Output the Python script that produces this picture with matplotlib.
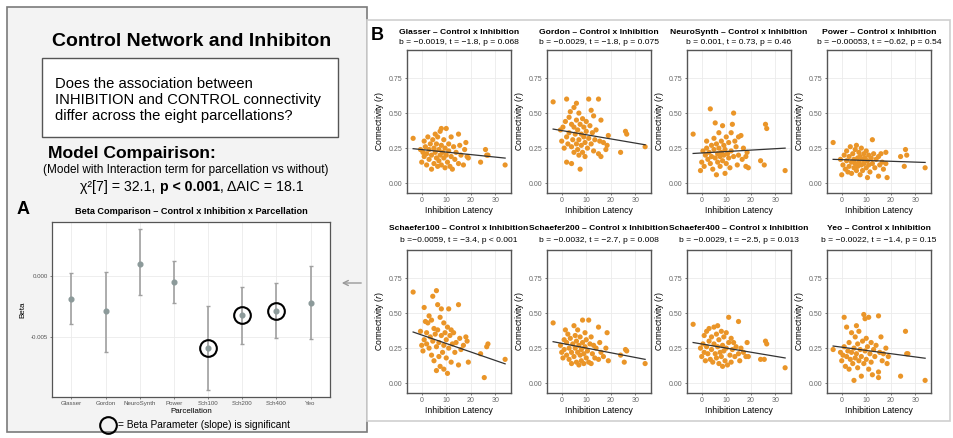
import matplotlib.pyplot as plt
import matplotlib.patches as mpatches
from matplotlib.lines import Line2D

plt.rcParams['font.family'] = ['Liberation Sans', 'DejaVu Sans']
plt.rcParams['mathtext.fontset'] = 'custom'
plt.rcParams['mathtext.rm'] = 'Liberation Sans'
plt.rcParams['mathtext.it'] = 'Liberation Sans:italic'
plt.rcParams['mathtext.bf'] = 'Liberation Sans:bold'

W, H = 954, 438

# ---- panel A data : beta per parcellation with 95% interval
parcellations = ['Glasser', 'Gordon', 'NeuroSynth', 'Power', 'Sch100', 'Sch200', 'Sch400', 'Yeo']
beta = [-0.0019, -0.0029, 0.0010, -0.00053, -0.0059, -0.0032, -0.0029, -0.0022]
beta_low = [-0.0039, -0.0062, -0.0016, -0.0022, -0.0093, -0.0056, -0.0051, -0.0052]
beta_high = [0.0002, 0.0003, 0.0038, 0.0012, -0.0025, -0.0009, -0.0006, 0.0008]
significant = [False, False, False, False, True, True, True, False]

# ---- panel B data : connectivity vs inhibition latency
glasser_x = [-3.5, -0.5, 0, 0.5, 1, 1, 1.5, 2, 2, 2.5, 3, 3, 3.5, 4, 4, 4.5, 5, 5, 5.5, 5.5, 6, 6, 6.5, 6.5, 7, 7, 7.5, 7.5, 8, 8, 8, 8.5, 9, 9, 9.5, 9.5, 10, 10, 10.5, 11, 11, 11.5, 12, 12, 12.5, 13, 13.5, 14, 15, 15, 15.5, 16, 17, 17.5, 18, 18.5, 19, 24, 26, 26.5, 27, 34]
glasser_y = [0.32, 0.24, 0.15, 0.22, 0.30, 0.19, 0.26, 0.21, 0.13, 0.33, 0.24, 0.17, 0.28, 0.20, 0.10, 0.31, 0.25, 0.14, 0.35, 0.22, 0.18, 0.28, 0.12, 0.33, 0.24, 0.16, 0.20, 0.37, 0.39, 0.27, 0.13, 0.22, 0.18, 0.31, 0.11, 0.25, 0.39, 0.20, 0.15, 0.28, 0.23, 0.12, 0.33, 0.19, 0.10, 0.26, 0.17, 0.22, 0.35, 0.14, 0.27, 0.20, 0.13, 0.24, 0.29, 0.19, 0.18, 0.15, 0.24, 0.20, 0.20, 0.13]

gordon_x = [-3.5, -0.5, 0, 0.5, 1, 1.5, 2, 2, 2, 2.5, 3, 3, 3.5, 4, 4, 4, 4.5, 5, 5, 5, 5.5, 6, 6, 6, 6.5, 6.5, 7, 7, 7, 7.5, 7.5, 8, 8, 8.5, 8.5, 9, 9, 9.5, 9.5, 10, 10, 10.5, 11, 11, 11.5, 12, 12, 12.5, 13, 13, 13.5, 14, 15, 15, 15.5, 16, 16, 17, 18, 18.5, 19, 24, 26, 26.5, 34]
gordon_y = [0.58, 0.38, 0.30, 0.40, 0.25, 0.44, 0.60, 0.33, 0.15, 0.28, 0.47, 0.36, 0.51, 0.42, 0.26, 0.14, 0.31, 0.54, 0.40, 0.22, 0.35, 0.57, 0.45, 0.28, 0.24, 0.38, 0.50, 0.31, 0.20, 0.10, 0.42, 0.27, 0.35, 0.46, 0.22, 0.33, 0.40, 0.19, 0.29, 0.44, 0.37, 0.25, 0.60, 0.32, 0.41, 0.52, 0.28, 0.36, 0.48, 0.23, 0.31, 0.38, 0.60, 0.21, 0.30, 0.45, 0.19, 0.29, 0.24, 0.27, 0.34, 0.22, 0.37, 0.35, 0.26]

neurosynth_x = [-3.5, -0.5, 0, 0.5, 1, 1.5, 2, 2, 2.5, 3, 3.5, 3.5, 4, 4, 4.5, 5, 5, 5.5, 5.5, 6, 6, 6.5, 6.5, 7, 7, 7.5, 7.5, 8, 8, 8.5, 8.5, 9, 9, 9.5, 9.5, 10, 10, 10.5, 11, 11, 11.5, 12, 12, 12.5, 13, 13, 13.5, 14, 14.5, 15, 15, 16, 16.5, 17, 18, 18, 18.5, 19, 24, 25.5, 26, 26.5, 34]
neurosynth_y = [0.35, 0.09, 0.15, 0.23, 0.12, 0.20, 0.30, 0.25, 0.17, 0.22, 0.53, 0.14, 0.27, 0.19, 0.10, 0.32, 0.24, 0.43, 0.18, 0.06, 0.28, 0.21, 0.15, 0.36, 0.25, 0.19, 0.12, 0.30, 0.22, 0.41, 0.16, 0.27, 0.20, 0.07, 0.24, 0.33, 0.14, 0.21, 0.29, 0.18, 0.11, 0.36, 0.23, 0.42, 0.50, 0.19, 0.30, 0.26, 0.13, 0.33, 0.20, 0.34, 0.17, 0.25, 0.19, 0.12, 0.22, 0.11, 0.16, 0.13, 0.42, 0.39, 0.09]

power_x = [-3.5, -0.5, 0, 0.5, 1, 1.5, 2, 2, 2.5, 3, 3, 3.5, 4, 4, 4.5, 5, 5, 5.5, 5.5, 6, 6, 6.5, 6.5, 7, 7, 7.5, 7.5, 8, 8, 8.5, 8.5, 9, 9, 9.5, 10, 10, 10.5, 10.5, 11, 11, 11.5, 12, 12.5, 12.5, 13, 13.5, 14, 15, 15, 15.5, 16, 16.5, 17, 18, 18, 18.5, 24, 25.5, 26, 26.5, 34]
power_y = [0.29, 0.17, 0.06, 0.13, 0.20, 0.10, 0.16, 0.23, 0.08, 0.19, 0.12, 0.26, 0.15, 0.07, 0.21, 0.17, 0.11, 0.24, 0.14, 0.27, 0.09, 0.18, 0.12, 0.22, 0.15, 0.06, 0.19, 0.25, 0.13, 0.17, 0.09, 0.21, 0.14, 0.18, 0.23, 0.11, 0.04, 0.16, 0.20, 0.13, 0.08, 0.18, 0.31, 0.14, 0.21, 0.11, 0.17, 0.05, 0.19, 0.13, 0.21, 0.15, 0.10, 0.22, 0.14, 0.04, 0.19, 0.12, 0.24, 0.20, 0.11]

sch100_x = [-3.5, -0.5, 0, 0.5, 1, 1, 1.5, 2, 2, 2.5, 3, 3, 3.5, 4, 4, 4.5, 4.5, 5, 5, 5.5, 6, 6, 6, 6.5, 6.5, 7, 7, 7.5, 7.5, 8, 8, 8.5, 9, 9, 9, 9.5, 10, 10, 10.5, 10.5, 11, 11, 11.5, 12, 12, 12.5, 13, 13.5, 14, 15, 15, 15.5, 16, 17, 18, 18.5, 19, 24, 25.5, 26.5, 27, 34]
sch100_y = [0.65, 0.37, 0.27, 0.23, 0.54, 0.31, 0.44, 0.28, 0.36, 0.43, 0.48, 0.25, 0.33, 0.45, 0.20, 0.62, 0.30, 0.39, 0.16, 0.35, 0.66, 0.09, 0.26, 0.56, 0.38, 0.29, 0.19, 0.47, 0.12, 0.53, 0.34, 0.22, 0.43, 0.27, 0.10, 0.36, 0.18, 0.31, 0.07, 0.40, 0.53, 0.25, 0.34, 0.15, 0.38, 0.28, 0.36, 0.22, 0.29, 0.56, 0.13, 0.32, 0.24, 0.27, 0.33, 0.30, 0.15, 0.21, 0.04, 0.26, 0.28, 0.17]

sch200_x = [-3.5, -0.5, 0, 0.5, 1, 1, 1.5, 2, 2, 2.5, 3, 3, 3.5, 4, 4, 4.5, 5, 5, 5.5, 5.5, 6, 6, 6.5, 6.5, 7, 7, 7.5, 7.5, 8, 8, 8.5, 8.5, 9, 9, 9.5, 9.5, 10, 10, 10.5, 11, 11, 11.5, 12, 12, 12.5, 13, 13.5, 14, 15, 15, 15.5, 16, 17, 18, 18.5, 19, 24, 25.5, 26, 26.5, 34]
sch200_y = [0.43, 0.27, 0.22, 0.18, 0.31, 0.24, 0.38, 0.20, 0.29, 0.35, 0.25, 0.17, 0.32, 0.22, 0.14, 0.28, 0.41, 0.19, 0.34, 0.25, 0.15, 0.30, 0.22, 0.38, 0.27, 0.13, 0.20, 0.33, 0.24, 0.16, 0.45, 0.29, 0.21, 0.14, 0.36, 0.26, 0.18, 0.31, 0.23, 0.45, 0.15, 0.28, 0.14, 0.33, 0.21, 0.27, 0.18, 0.25, 0.40, 0.17, 0.29, 0.22, 0.19, 0.25, 0.36, 0.16, 0.20, 0.15, 0.24, 0.23, 0.14]

sch400_x = [-3.5, -0.5, 0, 0.5, 1, 1, 1.5, 2, 2, 2.5, 3, 3, 3.5, 4, 4, 4.5, 5, 5, 5.5, 6, 6, 6.5, 6.5, 7, 7, 7.5, 8, 8, 8.5, 8.5, 9, 9, 9.5, 10, 10, 10.5, 11, 11, 11.5, 12, 12, 12.5, 13, 13.5, 14, 15, 15, 15.5, 16, 17, 18, 18.5, 19, 24, 25.5, 26, 26.5, 34]
sch400_y = [0.42, 0.25, 0.19, 0.28, 0.34, 0.22, 0.16, 0.37, 0.26, 0.21, 0.39, 0.30, 0.17, 0.33, 0.24, 0.15, 0.40, 0.28, 0.21, 0.35, 0.18, 0.41, 0.26, 0.14, 0.31, 0.22, 0.37, 0.19, 0.27, 0.12, 0.33, 0.23, 0.16, 0.36, 0.25, 0.13, 0.47, 0.29, 0.20, 0.32, 0.15, 0.24, 0.29, 0.19, 0.26, 0.44, 0.21, 0.16, 0.25, 0.22, 0.19, 0.29, 0.19, 0.17, 0.17, 0.30, 0.28, 0.11]

yeo_x = [-3.5, -0.5, 0, 0.5, 1, 1, 1.5, 2, 2, 2.5, 3, 3, 3.5, 4, 4, 4.5, 5, 5, 5.5, 5.5, 6, 6, 6.5, 6.5, 7, 7, 7.5, 8, 8, 8.5, 9, 9, 9.5, 9.5, 10, 10, 10.5, 11, 11, 11.5, 12, 12, 12.5, 13, 13.5, 14, 15, 15, 15, 15.5, 16, 16.5, 17, 18, 18.5, 19, 24, 26, 26.5, 27, 34]
yeo_y = [0.24, 0.22, 0.16, 0.20, 0.47, 0.26, 0.12, 0.40, 0.19, 0.23, 0.10, 0.29, 0.17, 0.36, 0.22, 0.14, 0.02, 0.25, 0.33, 0.18, 0.41, 0.21, 0.11, 0.28, 0.16, 0.37, 0.24, 0.05, 0.19, 0.30, 0.49, 0.14, 0.46, 0.23, 0.32, 0.17, 0.26, 0.47, 0.10, 0.21, 0.29, 0.15, 0.06, 0.24, 0.19, 0.27, 0.48, 0.04, 0.08, 0.22, 0.33, 0.16, 0.21, 0.25, 0.14, 0.19, 0.05, 0.37, 0.21, 0.21, 0.02]

panel_names = ['Glasser', 'Gordon', 'NeuroSynth', 'Power', 'Schaefer100', 'Schaefer200', 'Schaefer400', 'Yeo']
panel_stats = ['b = \u22120.0019, t = \u22121.8, p = 0.068',
               'b = \u22120.0029, t = \u22121.8, p = 0.075',
               'b = 0.001, t = 0.73, p = 0.46',
               'b = \u22120.00053, t = \u22120.62, p = 0.54',
               'b =\u22120.0059, t = \u22123.4, p < 0.001',
               'b = \u22120.0032, t = \u22122.7, p = 0.008',
               'b = \u22120.0029, t = \u22122.5, p = 0.013',
               'b = \u22120.0022, t = \u22121.4, p = 0.15']
fit_x = [-3.5, 34]
fit_start = [0.246, 0.386, 0.212, 0.170, 0.365, 0.296, 0.290, 0.265]
fit_end = [0.179, 0.274, 0.250, 0.148, 0.138, 0.170, 0.180, 0.178]
yticks_b = [0.0, 0.25, 0.50, 0.75]
xticks_b = [0, 10, 20, 30]


def fx(x):
    return x / W


def fy(y):
    return 1 - y / H


def add_ax(left, top, right, bottom):
    return fig.add_axes([fx(left), fy(bottom), (right - left) / W, (bottom - top) / H])


def box(left, top, right, bottom, face, edge, lw):
    fig.add_artist(mpatches.Rectangle((fx(left), fy(bottom)), (right - left) / W, (bottom - top) / H,
                                      transform=fig.transFigure, facecolor=face, edgecolor=edge, lw=lw, zorder=-10))


fig = plt.figure(figsize=(W / 100, H / 100), dpi=100)
renderer = fig.canvas.get_renderer()

# background boxes
box(7, 7, 367, 432, '#f3f3f3', '#7a7a7a', 1.2)
box(367, 20, 950, 421, 'white', '#cfcfcf', 1.2)
box(42, 58, 338, 137, 'white', '#555555', 1.0)

# left side text
fig.text(fx(192), fy(42), 'Control Network and Inhibiton', ha='center', va='center', fontsize=14, fontweight='bold')
fig.text(fx(55), fy(100), 'Does the association between\nINHIBITION and CONTROL connectivity\ndiffer across the eight parcellations?',
         ha='left', va='center', fontsize=10.6, linespacing=1.22)
fig.text(fx(48), fy(154), 'Model Compairison:', ha='left', va='center', fontsize=12.6, fontweight='bold')
fig.text(fx(43), fy(170), '(Model with Interaction term for parcellation vs without)', ha='left', va='center', fontsize=8.5)

# chi-square line, bold part in the middle
chi_parts = ['\u03c7\u00b2[7] = 32.1, ', 'p < 0.001', ', \u0394AIC = 18.1']
chi_weights = ['normal', 'bold', 'normal']
widths = []
for part, wt in zip(chi_parts, chi_weights):
    t = fig.text(0, 0, part, fontsize=10.2, fontweight=wt)
    widths.append(t.get_window_extent(renderer).width)
    t.remove()
x0 = 192 - sum(widths) / 2
for part, wt, wd in zip(chi_parts, chi_weights, widths):
    fig.text(fx(x0), fy(187), part, ha='left', va='center', fontsize=10.2, fontweight=wt)
    x0 += wd

fig.text(fx(23), fy(210), 'A', ha='center', va='center', fontsize=13, fontweight='bold')
fig.text(fx(377), fy(35), 'B', ha='center', va='center', fontsize=13, fontweight='bold')

# panel A
axA = add_ax(52, 222, 330, 397)
xs = range(len(parcellations))
yerr = [[b - lo for b, lo in zip(beta, beta_low)], [hi - b for b, hi in zip(beta, beta_high)]]
axA.errorbar(xs, beta, yerr=yerr, fmt='o', color='#8c9a9a', ecolor='#a0a0a0', elinewidth=1.2,
             capsize=1.6, capthick=1.0, ms=3.4, zorder=3)
for i, sig in enumerate(significant):
    if sig:
        axA.plot(i, beta[i], 'o', ms=12, mfc='none', mec='black', mew=1.5, zorder=4)
axA.set_xlim(-0.57, 7.57)
axA.set_ylim(-0.0099, 0.0044)
axA.set_yticks([0.0, -0.005])
axA.set_yticklabels(['0.000', '-0.005'])
axA.set_xticks(list(xs))
axA.set_xticklabels(parcellations)
axA.tick_params(labelsize=4.4, colors='#555555', length=1.5, width=0.5, pad=1.5)
axA.grid(True, color='#ebebeb', lw=0.6)
axA.set_axisbelow(True)
for s in axA.spines.values():
    s.set_color('#555555')
    s.set_linewidth(0.9)
axA.set_xlabel('Parcellation', fontsize=5.8, labelpad=1.5)
axA.set_ylabel('Beta', fontsize=5.8, labelpad=3)
fig.text(fx(191), fy(211), 'Beta Comparison \u2013 Control x Inhibition x Parcellation', ha='center', va='center',
         fontsize=6.6, fontweight='bold')

# legend for circles
fig.add_artist(Line2D([fx(108)], [fy(425)], marker='o', ms=12, mfc='none', mec='black', mew=1.5,
                      transform=fig.transFigure))
fig.text(fx(118), fy(425), '= Beta Parameter (slope) is significant', ha='left', va='center', fontsize=7.3)

# arrow from panel B to panel A
fig.add_artist(mpatches.FancyArrowPatch((fx(364), fy(283)), (fx(339), fy(283)), transform=fig.transFigure,
                                        arrowstyle='->', mutation_scale=9, color='#999999', lw=1.0))

# panel B scatter plots
scatter_x = [glasser_x, gordon_x, neurosynth_x, power_x, sch100_x, sch200_x, sch400_x, yeo_x]
scatter_y = [glasser_y, gordon_y, neurosynth_y, power_y, sch100_y, sch200_y, sch400_y, yeo_y]
col_left = [407, 547, 687, 827]
rows = [(50, 193, 32, 43), (250, 393, 228, 240)]

for k in range(8):
    r, c = divmod(k, 4)
    top, bottom, ty, sy = rows[r]
    left = col_left[c]
    ax = add_ax(left, top, left + 104, bottom)
    ax.scatter(scatter_x[k], scatter_y[k], s=14, color='#EA9528', edgecolors='none', zorder=3)
    ax.plot(fit_x, [fit_start[k], fit_end[k]], color='#333333', lw=0.9, zorder=4)
    ax.set_xlim(-6, 36.4)
    ax.set_ylim(-0.07, 0.95)
    ax.set_xticks(xticks_b)
    ax.set_yticks(yticks_b)
    ax.set_yticklabels(['0.00', '0.25', '0.50', '0.75'])
    ax.tick_params(labelsize=5, colors='#666666', length=1.5, width=0.6, pad=1.5)
    ax.grid(True, color='#ebebeb', lw=0.6)
    ax.set_axisbelow(True)
    for s in ax.spines.values():
        s.set_color('#555555')
        s.set_linewidth(1.0)
    ax.set_xlabel('Inhibition Latency', fontsize=6.2, labelpad=1.5)
    ax.set_ylabel('Connectivity ($\\it{r}$)', fontsize=6.2, labelpad=2)
    cx = left + 52
    fig.text(fx(cx), fy(ty), panel_names[k] + ' \u2013 Control x Inhibition', ha='center', va='center',
             fontsize=6.1, fontweight='bold')
    fig.text(fx(cx), fy(sy), panel_stats[k], ha='center', va='center', fontsize=6.1)

fig.savefig('out.png', dpi=100)
